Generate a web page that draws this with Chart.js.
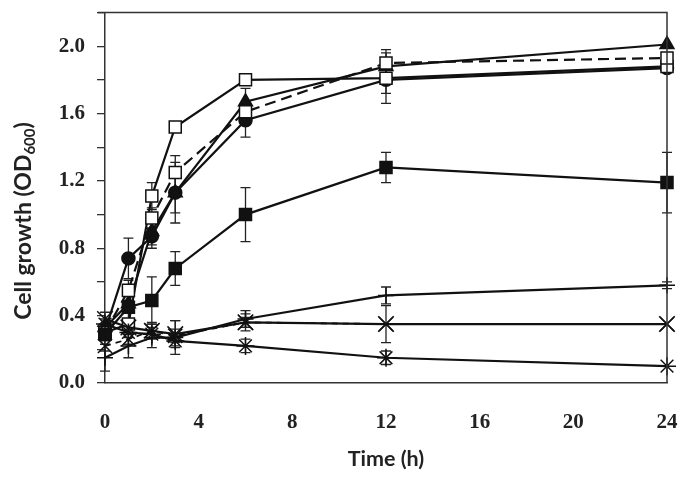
<!DOCTYPE html>
<html>
<head>
<meta charset="utf-8">
<script src="https://cdn.jsdelivr.net/npm/chart.js@4.4.1/dist/chart.umd.min.js"></script>
<style>
  html, body { margin: 0; padding: 0; background: #fff; }
  #wrap { width: 690px; height: 482px; }
</style>
</head>
<body>
<div id="wrap"><canvas id="growthChart" width="690" height="482"></canvas></div>
<script>
// sampling times (h)
const timePoints = [0, 1, 2, 3, 6, 12, 24];

// OD600 readings per strain
const sqOpenSolid = [0.30, 0.35, 1.11, 1.52, 1.80, 1.81, 1.88];
const sqOpenSolidErr = [0.02, 0.03, 0.08, 0, 0, 0.15, 0];
const sqOpenDash = [0.30, 0.55, 0.98, 1.25, 1.61, 1.90, 1.93];
const sqOpenDashErr = [0, 0.06, 0.06, 0.1, 0.05, 0.08, 0];
const circleVals = [0.31, 0.74, 0.87, 1.13, 1.56, 1.80, 1.87];
const circleErr = [0.03, 0.12, 0.05, 0.18, 0.1, 0.08, 0];
const triangleVals = [0.33, 0.47, 0.90, 1.13, 1.67, 1.88, 2.01];
const triangleErr = [0.02, 0.05, 0.1, 0.12, 0.08, 0.05, 0];
const sqFilledVals = [0.29, 0.45, 0.49, 0.68, 1.00, 1.28, 1.19];
const sqFilledErr = [0.02, 0.1, 0.14, 0.1, 0.16, 0.09, 0.18];
const plusVals = [0.15, 0.22, 0.27, 0.27, 0.38, 0.52, 0.58];
const plusErr = [0.08, 0.07, 0.06, 0.1, 0.05, 0.05, 0.02];
const crossVals = [0.38, 0.33, 0.31, 0.29, 0.36, 0.35, 0.35];
const crossErr = [0.04, 0.03, 0.05, 0.08, 0.05, 0.11, 0];
const starVals = [0.35, 0.30, 0.29, 0.25, 0.22, 0.15, 0.10];
const starErr = [0.03, 0.03, 0.02, 0.03, 0.04, 0.04, 0];
const crossDashVals = [0.22, 0.26, 0.31, 0.28, 0.36, 0.35, 0.35];
const crossDashErr = [0.03, 0.03, 0.04, 0.04, 0.03, 0, 0];

const xTicks = [0, 4, 8, 12, 16, 20, 24];

function pts(vals) {
  return vals.map((v, i) => ({ x: timePoints[i], y: v }));
}

function series(vals, err, style, extra) {
  return Object.assign({
    data: pts(vals),
    errors: err,
    borderColor: '#111',
    borderWidth: 2.2,
    pointStyle: style,
    pointRadius: 7,
    pointBorderColor: '#111',
    pointBackgroundColor: '#111',
    pointBorderWidth: 1.5,
    clip: false,
    tension: 0
  }, extra || {});
}

// vertical error bars, drawn under the markers
const errorBars = {
  id: 'errorBars',
  beforeDatasetsDraw(chart) {
    const ctx = chart.ctx;
    const xs = chart.scales.x, ys = chart.scales.y;
    ctx.save();
    ctx.strokeStyle = '#222';
    ctx.lineWidth = 1.3;
    chart.data.datasets.forEach(ds => {
      ds.data.forEach((p, i) => {
        const e = ds.errors ? ds.errors[i] : 0;
        if (!e) return;
        const x = xs.getPixelForValue(p.x);
        const y1 = ys.getPixelForValue(p.y + e);
        const y2 = ys.getPixelForValue(p.y - e);
        ctx.beginPath();
        ctx.moveTo(x, y1); ctx.lineTo(x, y2);
        ctx.moveTo(x - 5, y1); ctx.lineTo(x + 5, y1);
        ctx.moveTo(x - 5, y2); ctx.lineTo(x + 5, y2);
        ctx.stroke();
      });
    });
    ctx.restore();
  }
};

// top and right edges of the plot box + y title with subscript
const frameAndTitle = {
  id: 'frameAndTitle',
  afterDraw(chart) {
    const ctx = chart.ctx;
    const a = chart.chartArea;
    ctx.save();
    ctx.strokeStyle = '#333';
    ctx.lineWidth = 1.5;
    ctx.beginPath();
    ctx.moveTo(a.left - 7, a.top); ctx.lineTo(a.right, a.top); ctx.lineTo(a.right, a.bottom);
    ctx.stroke();

    const main = 'Cell growth (OD';
    const sub = '600';
    const close = ')';
    ctx.fillStyle = '#222';
    ctx.textBaseline = 'alphabetic';
    ctx.font = 'bold 23px Lato';
    const w1 = ctx.measureText(main).width;
    const w3 = ctx.measureText(close).width;
    ctx.font = 'bold 15px Lato';
    const w2 = ctx.measureText(sub).width;
    const total = w1 + w2 + w3;
    ctx.translate(31, 221);
    ctx.rotate(-Math.PI / 2);
    let x = -total / 2;
    ctx.font = 'bold 23px Lato';
    ctx.fillText(main, x, 0);
    x += w1;
    ctx.font = 'bold 15px Lato';
    ctx.fillText(sub, x, 4);
    x += w2;
    ctx.font = 'bold 23px Lato';
    ctx.fillText(close, x, 0);
    ctx.restore();
  }
};

const tickFont = { family: 'Liberation Serif', size: 21, weight: 'bold' };

new Chart(document.getElementById('growthChart'), {
  type: 'line',
  data: {
    datasets: [
      series(starVals, starErr, 'star', { pointRadius: 9 }),
      series(crossVals, crossErr, 'crossRot', { pointRadius: 11 }),
      series(crossDashVals, crossDashErr, 'crossRot', { pointRadius: 10, borderDash: [6, 5], borderWidth: 1.8 }),
      series(plusVals, plusErr, 'cross', { pointRadius: 8 }),
      series(sqFilledVals, sqFilledErr, 'rect', { pointRadius: 8.5 }),
      series(sqOpenDash, sqOpenDashErr, 'rect', { pointRadius: 8.5, pointBackgroundColor: '#fff', borderDash: [11, 6] }),
      series(sqOpenSolid, sqOpenSolidErr, 'rect', { pointRadius: 8.5, pointBackgroundColor: '#fff' }),
      series(triangleVals, triangleErr, 'triangle', { pointRadius: 8 }),
      series(circleVals, circleErr, 'circle', { pointRadius: 6.5 })
    ]
  },
  options: {
    responsive: false,
    animation: false,
    events: [],
    layout: { padding: { left: 0, right: 23, top: 12, bottom: 0 } },
    plugins: {
      legend: { display: false },
      tooltip: { enabled: false }
    },
    scales: {
      x: {
        type: 'linear',
        min: 0,
        max: 24,
        afterBuildTicks(scale) {
          scale.ticks = xTicks.map(v => ({ value: v }));
        },
        afterFit(scale) {
          scale.height = 99;
          scale.paddingLeft = 0;
          scale.paddingRight = 0;
        },
        grid: { display: false, drawTicks: false },
        border: { display: true, color: '#333', width: 1.5 },
        ticks: { font: tickFont, color: '#222', padding: 27, maxRotation: 0 },
        title: {
          display: true,
          text: 'Time (h)',
          color: '#222',
          font: { family: 'Lato', size: 21.5, weight: 'bold' },
          padding: { top: 0, bottom: 10 }
        }
      },
      y: {
        min: 0,
        max: 2.2,
        afterFit(scale) {
          scale.width = 105;
          scale.paddingTop = 0;
          scale.paddingBottom = 0;
        },
        grid: {
          display: true,
          drawOnChartArea: false,
          drawTicks: true,
          tickLength: 8,
          color: '#333',
          lineWidth: 1.3
        },
        border: { display: true, color: '#333', width: 1.5 },
        ticks: {
          stepSize: 0.2,
          font: tickFont,
          color: '#222',
          padding: 12,
          callback(v) {
            const t = Math.round(v * 10);
            return (t % 4 === 0 && t <= 20) ? (t / 10).toFixed(1) : '';
          }
        }
      }
    }
  },
  plugins: [errorBars, frameAndTitle]
});
</script>
</body>
</html>
